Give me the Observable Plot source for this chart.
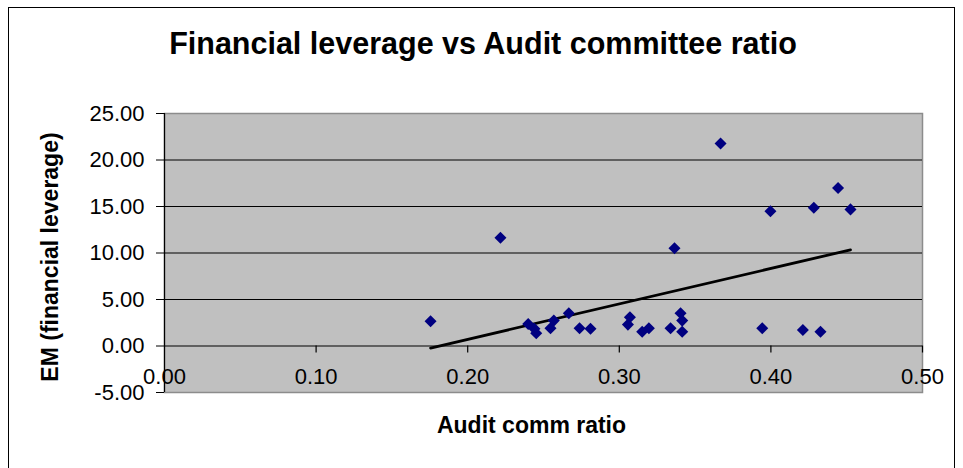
<!DOCTYPE html>
<html>
<head>
<meta charset="utf-8">
<script src="https://cdn.jsdelivr.net/npm/d3@7"></script>
<script src="https://cdn.jsdelivr.net/npm/@observablehq/plot@0.6"></script>
<style>
  html, body { margin: 0; padding: 0; background: #fff; }
  #wrap { position: relative; width: 963px; height: 468px; overflow: hidden; font-family: "Liberation Sans", Arial, sans-serif; }
  #border { position: absolute; left: 8px; top: 7px; width: 947px; height: 470px; border: 1.5px solid #000; box-sizing: border-box; }
  #title { position: absolute; left: 0; width: 966px; top: 25px; text-align: center; font-size: 30.5px; font-weight: bold; color: #000; line-height: 36px; }
  #chart { position: absolute; left: 0; top: 0; }
</style>
</head>
<body>
<div id="wrap">
  <div id="border"></div>
  <div id="chart"></div>
  <div id="title">Financial leverage vs Audit committee ratio</div>
</div>
<script>
// Data
const auditRatio = [0.1755, 0.2216, 0.2399, 0.2452, 0.2440, 0.2546, 0.2568, 0.2667, 0.2738, 0.2810,
                    0.3070, 0.3057, 0.3151, 0.3195, 0.3338, 0.3364, 0.3404, 0.3415, 0.3415, 0.3668,
                    0.3943, 0.3997, 0.4211, 0.4283, 0.4327, 0.4443, 0.4525];
const emLeverage = [2.65, 11.64, 2.37, 1.36, 1.86, 1.90, 2.73, 3.51, 1.90, 1.86,
                    3.08, 2.30, 1.54, 1.90, 1.90, 10.52, 3.51, 2.73, 1.54, 21.77,
                    1.90, 14.50, 1.72, 14.87, 1.54, 16.98, 14.69];
// Linear trend line end points (as read)
const trendX = [0.1755, 0.4525];
const trendY = [-0.22, 10.34];

const xTicks = [0, 0.1, 0.2, 0.3, 0.4, 0.5];
const yTicks = [-5, 0, 5, 10, 15, 20, 25];
const yGrid = [0, 5, 10, 15, 20];

const points = auditRatio.map((x, i) => ({x, y: emLeverage[i]}));
const trend = trendX.map((x, i) => ({x, y: trendY[i]}));

// Excel-style diamond (square rotated 45°)
const excelDiamond = {
  draw(context, size) {
    const h = Math.sqrt(size / 2);
    context.moveTo(0, -h);
    context.lineTo(h, 0);
    context.lineTo(0, h);
    context.lineTo(-h, 0);
    context.closePath();
  }
};

const fmt = d => d.toFixed(2);

const chart = Plot.plot({
  width: 963,
  height: 468,
  marginLeft: 164,
  marginRight: 41,
  marginTop: 113,
  marginBottom: 76,
  style: { fontFamily: "Liberation Sans, Arial, sans-serif", color: "#000", background: "transparent", overflow: "visible" },
  x: { domain: [0, 0.5], axis: null },
  y: { domain: [-5, 25], axis: null },
  marks: [
    Plot.frame({ fill: "#c0c0c0", stroke: "#8c8c8c", strokeWidth: 1.5 }),
    Plot.ruleY(yGrid, { stroke: "#000", strokeWidth: 1.2 }),
    Plot.ruleX([0], { stroke: "#000", strokeWidth: 1.2 }),
    Plot.ruleX(xTicks.slice(1), { x: d => d, y1: 0, y2: 0, insetBottom: -7, stroke: "#000", strokeWidth: 1.2 }),
    Plot.axisY({ ticks: yTicks, tickFormat: fmt, tickSize: 8, tickPadding: 12, fontSize: 22, label: null, stroke: "#000" }),
    Plot.text(xTicks, { x: d => d, text: d => fmt(d), frameAnchor: "bottom", dy: -9, fontSize: 22, fill: "#000" }),
    Plot.line(trend, { x: "x", y: "y", stroke: "#000", strokeWidth: 2.8 }),
    Plot.dot(points, { x: "x", y: "y", symbol: excelDiamond, r: 4.8, fill: "#000080", stroke: "none" }),
    Plot.text(["Audit comm ratio"], { frameAnchor: "bottom", dy: 40, dx: -12, fontSize: 23, fontWeight: "bold", fill: "#000" }),
    Plot.text(["EM (financial leverage)"], { frameAnchor: "left", textAnchor: "middle", rotate: -90, dx: -114, dy: 4, fontSize: 23, fontWeight: "bold", fill: "#000" })
  ]
});
document.getElementById("chart").appendChild(chart);
</script>
</body>
</html>
